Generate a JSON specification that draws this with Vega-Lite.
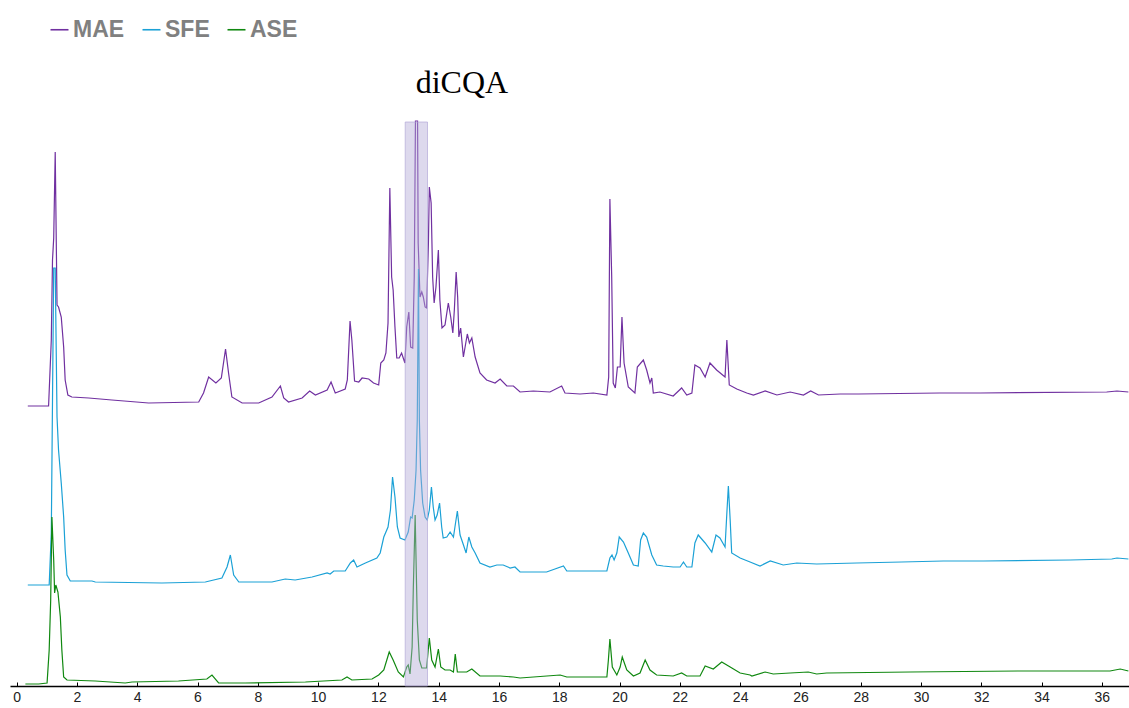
{
  "$schema": "https://vega.github.io/schema/vega-lite/v6.json",
  "width": 1119,
  "height": 566,
  "autosize": {"type": "none"},
  "padding": {"left": 10, "top": 120, "right": 0, "bottom": 22},
  "background": "white",
  "config": {"view": {"stroke": null}},
  "datasets": {
    "traces": [
      {"s":"MAE","t":0.37,"v":280},{"s":"MAE","t":1.06,"v":280},{"s":"MAE","t":1.15,"v":346},{"s":"MAE","t":1.19,"v":426},{"s":"MAE","t":1.23,"v":448},{"s":"MAE","t":1.28,"v":534},{"s":"MAE","t":1.34,"v":381},{"s":"MAE","t":1.39,"v":379},{"s":"MAE","t":1.48,"v":369},{"s":"MAE","t":1.56,"v":339},{"s":"MAE","t":1.61,"v":306},{"s":"MAE","t":1.70,"v":291},{"s":"MAE","t":1.83,"v":289},{"s":"MAE","t":2.39,"v":288},{"s":"MAE","t":3.16,"v":286},{"s":"MAE","t":4.38,"v":283},{"s":"MAE","t":6.04,"v":284},{"s":"MAE","t":6.20,"v":293},{"s":"MAE","t":6.37,"v":309},{"s":"MAE","t":6.61,"v":303},{"s":"MAE","t":6.79,"v":308},{"s":"MAE","t":6.93,"v":337},{"s":"MAE","t":7.03,"v":313},{"s":"MAE","t":7.14,"v":289},{"s":"MAE","t":7.48,"v":283},{"s":"MAE","t":8.03,"v":283},{"s":"MAE","t":8.47,"v":289},{"s":"MAE","t":8.75,"v":300},{"s":"MAE","t":8.86,"v":288},{"s":"MAE","t":9.02,"v":284},{"s":"MAE","t":9.47,"v":288},{"s":"MAE","t":9.72,"v":295},{"s":"MAE","t":9.91,"v":291},{"s":"MAE","t":10.30,"v":296},{"s":"MAE","t":10.43,"v":304},{"s":"MAE","t":10.57,"v":293},{"s":"MAE","t":10.90,"v":297},{"s":"MAE","t":10.97,"v":306},{"s":"MAE","t":11.06,"v":365},{"s":"MAE","t":11.12,"v":346},{"s":"MAE","t":11.21,"v":305},{"s":"MAE","t":11.35,"v":304},{"s":"MAE","t":11.46,"v":308},{"s":"MAE","t":11.68,"v":307},{"s":"MAE","t":11.84,"v":303},{"s":"MAE","t":12.01,"v":301},{"s":"MAE","t":12.08,"v":323},{"s":"MAE","t":12.18,"v":326},{"s":"MAE","t":12.25,"v":333},{"s":"MAE","t":12.32,"v":363},{"s":"MAE","t":12.38,"v":498},{"s":"MAE","t":12.44,"v":409},{"s":"MAE","t":12.49,"v":396},{"s":"MAE","t":12.55,"v":359},{"s":"MAE","t":12.61,"v":328},{"s":"MAE","t":12.69,"v":328},{"s":"MAE","t":12.77,"v":333},{"s":"MAE","t":12.88,"v":323},{"s":"MAE","t":12.94,"v":359},{"s":"MAE","t":13.01,"v":374},{"s":"MAE","t":13.07,"v":339},{"s":"MAE","t":13.14,"v":338},{"s":"MAE","t":13.19,"v":409},{"s":"MAE","t":13.23,"v":565},{"s":"MAE","t":13.30,"v":565},{"s":"MAE","t":13.32,"v":443},{"s":"MAE","t":13.38,"v":389},{"s":"MAE","t":13.44,"v":394},{"s":"MAE","t":13.49,"v":389},{"s":"MAE","t":13.55,"v":379},{"s":"MAE","t":13.60,"v":378},{"s":"MAE","t":13.66,"v":443},{"s":"MAE","t":13.69,"v":499},{"s":"MAE","t":13.75,"v":483},{"s":"MAE","t":13.80,"v":409},{"s":"MAE","t":13.85,"v":383},{"s":"MAE","t":13.91,"v":399},{"s":"MAE","t":13.99,"v":436},{"s":"MAE","t":14.04,"v":386},{"s":"MAE","t":14.11,"v":358},{"s":"MAE","t":14.21,"v":361},{"s":"MAE","t":14.32,"v":383},{"s":"MAE","t":14.40,"v":369},{"s":"MAE","t":14.47,"v":353},{"s":"MAE","t":14.52,"v":376},{"s":"MAE","t":14.58,"v":414},{"s":"MAE","t":14.63,"v":389},{"s":"MAE","t":14.67,"v":349},{"s":"MAE","t":14.73,"v":358},{"s":"MAE","t":14.82,"v":329},{"s":"MAE","t":14.95,"v":352},{"s":"MAE","t":15.02,"v":343},{"s":"MAE","t":15.10,"v":348},{"s":"MAE","t":15.21,"v":329},{"s":"MAE","t":15.37,"v":313},{"s":"MAE","t":15.59,"v":306},{"s":"MAE","t":15.87,"v":303},{"s":"MAE","t":16.04,"v":307},{"s":"MAE","t":16.26,"v":300},{"s":"MAE","t":16.48,"v":300},{"s":"MAE","t":16.70,"v":294},{"s":"MAE","t":17.14,"v":295},{"s":"MAE","t":17.69,"v":294},{"s":"MAE","t":18.08,"v":300},{"s":"MAE","t":18.19,"v":293},{"s":"MAE","t":18.69,"v":292},{"s":"MAE","t":19.13,"v":293},{"s":"MAE","t":19.58,"v":291},{"s":"MAE","t":19.64,"v":309},{"s":"MAE","t":19.68,"v":487},{"s":"MAE","t":19.74,"v":409},{"s":"MAE","t":19.79,"v":303},{"s":"MAE","t":19.86,"v":298},{"s":"MAE","t":19.93,"v":319},{"s":"MAE","t":20.02,"v":319},{"s":"MAE","t":20.08,"v":369},{"s":"MAE","t":20.15,"v":323},{"s":"MAE","t":20.29,"v":299},{"s":"MAE","t":20.51,"v":293},{"s":"MAE","t":20.59,"v":319},{"s":"MAE","t":20.79,"v":326},{"s":"MAE","t":20.90,"v":316},{"s":"MAE","t":21.01,"v":303},{"s":"MAE","t":21.07,"v":308},{"s":"MAE","t":21.12,"v":293},{"s":"MAE","t":21.34,"v":294},{"s":"MAE","t":21.78,"v":290},{"s":"MAE","t":22.06,"v":298},{"s":"MAE","t":22.23,"v":291},{"s":"MAE","t":22.40,"v":293},{"s":"MAE","t":22.50,"v":321},{"s":"MAE","t":22.67,"v":318},{"s":"MAE","t":22.84,"v":309},{"s":"MAE","t":23.00,"v":323},{"s":"MAE","t":23.22,"v":316},{"s":"MAE","t":23.50,"v":309},{"s":"MAE","t":23.56,"v":346},{"s":"MAE","t":23.64,"v":301},{"s":"MAE","t":23.89,"v":297},{"s":"MAE","t":24.22,"v":293},{"s":"MAE","t":24.44,"v":291},{"s":"MAE","t":24.83,"v":295},{"s":"MAE","t":25.22,"v":291},{"s":"MAE","t":25.66,"v":294},{"s":"MAE","t":26.10,"v":291},{"s":"MAE","t":26.34,"v":295},{"s":"MAE","t":26.60,"v":291},{"s":"MAE","t":27.32,"v":292},{"s":"MAE","t":27.92,"v":292},{"s":"MAE","t":30.63,"v":293},{"s":"MAE","t":31.96,"v":293},{"s":"MAE","t":36.16,"v":294},{"s":"MAE","t":36.50,"v":295},{"s":"MAE","t":36.88,"v":294},
      {"s":"SFE","t":0.37,"v":101},{"s":"SFE","t":1.08,"v":101},{"s":"SFE","t":1.15,"v":153},{"s":"SFE","t":1.19,"v":286},{"s":"SFE","t":1.23,"v":418},{"s":"SFE","t":1.28,"v":418},{"s":"SFE","t":1.34,"v":269},{"s":"SFE","t":1.39,"v":236},{"s":"SFE","t":1.48,"v":203},{"s":"SFE","t":1.56,"v":169},{"s":"SFE","t":1.61,"v":136},{"s":"SFE","t":1.67,"v":111},{"s":"SFE","t":1.78,"v":105},{"s":"SFE","t":2.50,"v":105},{"s":"SFE","t":2.61,"v":104},{"s":"SFE","t":4.82,"v":103},{"s":"SFE","t":6.26,"v":104},{"s":"SFE","t":6.81,"v":108},{"s":"SFE","t":6.98,"v":119},{"s":"SFE","t":7.09,"v":131},{"s":"SFE","t":7.20,"v":111},{"s":"SFE","t":7.37,"v":104},{"s":"SFE","t":8.47,"v":104},{"s":"SFE","t":8.91,"v":107},{"s":"SFE","t":9.24,"v":106},{"s":"SFE","t":9.80,"v":109},{"s":"SFE","t":10.30,"v":113},{"s":"SFE","t":10.40,"v":112},{"s":"SFE","t":10.52,"v":115},{"s":"SFE","t":10.90,"v":115},{"s":"SFE","t":11.07,"v":123},{"s":"SFE","t":11.18,"v":126},{"s":"SFE","t":11.29,"v":119},{"s":"SFE","t":11.57,"v":123},{"s":"SFE","t":11.95,"v":128},{"s":"SFE","t":12.06,"v":133},{"s":"SFE","t":12.18,"v":149},{"s":"SFE","t":12.32,"v":159},{"s":"SFE","t":12.40,"v":176},{"s":"SFE","t":12.47,"v":209},{"s":"SFE","t":12.55,"v":189},{"s":"SFE","t":12.63,"v":159},{"s":"SFE","t":12.72,"v":148},{"s":"SFE","t":12.88,"v":146},{"s":"SFE","t":12.99,"v":154},{"s":"SFE","t":13.07,"v":169},{"s":"SFE","t":13.12,"v":168},{"s":"SFE","t":13.19,"v":186},{"s":"SFE","t":13.25,"v":216},{"s":"SFE","t":13.29,"v":266},{"s":"SFE","t":13.33,"v":417},{"s":"SFE","t":13.36,"v":266},{"s":"SFE","t":13.40,"v":216},{"s":"SFE","t":13.47,"v":183},{"s":"SFE","t":13.55,"v":169},{"s":"SFE","t":13.62,"v":166},{"s":"SFE","t":13.69,"v":176},{"s":"SFE","t":13.76,"v":199},{"s":"SFE","t":13.82,"v":179},{"s":"SFE","t":13.88,"v":166},{"s":"SFE","t":13.95,"v":171},{"s":"SFE","t":14.03,"v":183},{"s":"SFE","t":14.10,"v":159},{"s":"SFE","t":14.15,"v":148},{"s":"SFE","t":14.27,"v":149},{"s":"SFE","t":14.38,"v":154},{"s":"SFE","t":14.49,"v":149},{"s":"SFE","t":14.54,"v":159},{"s":"SFE","t":14.62,"v":175},{"s":"SFE","t":14.71,"v":151},{"s":"SFE","t":14.80,"v":143},{"s":"SFE","t":14.91,"v":133},{"s":"SFE","t":15.00,"v":149},{"s":"SFE","t":15.10,"v":139},{"s":"SFE","t":15.21,"v":133},{"s":"SFE","t":15.37,"v":123},{"s":"SFE","t":15.70,"v":119},{"s":"SFE","t":15.93,"v":121},{"s":"SFE","t":16.14,"v":121},{"s":"SFE","t":16.37,"v":118},{"s":"SFE","t":16.53,"v":119},{"s":"SFE","t":16.70,"v":114},{"s":"SFE","t":17.58,"v":114},{"s":"SFE","t":18.14,"v":120},{"s":"SFE","t":18.25,"v":115},{"s":"SFE","t":18.91,"v":115},{"s":"SFE","t":19.58,"v":115},{"s":"SFE","t":19.68,"v":128},{"s":"SFE","t":19.75,"v":131},{"s":"SFE","t":19.82,"v":126},{"s":"SFE","t":19.91,"v":133},{"s":"SFE","t":19.99,"v":149},{"s":"SFE","t":20.13,"v":144},{"s":"SFE","t":20.29,"v":133},{"s":"SFE","t":20.46,"v":121},{"s":"SFE","t":20.62,"v":120},{"s":"SFE","t":20.70,"v":146},{"s":"SFE","t":20.79,"v":153},{"s":"SFE","t":20.90,"v":149},{"s":"SFE","t":21.07,"v":131},{"s":"SFE","t":21.23,"v":121},{"s":"SFE","t":21.45,"v":120},{"s":"SFE","t":21.78,"v":119},{"s":"SFE","t":22.01,"v":119},{"s":"SFE","t":22.12,"v":124},{"s":"SFE","t":22.23,"v":119},{"s":"SFE","t":22.40,"v":119},{"s":"SFE","t":22.50,"v":143},{"s":"SFE","t":22.61,"v":151},{"s":"SFE","t":22.84,"v":143},{"s":"SFE","t":23.06,"v":134},{"s":"SFE","t":23.20,"v":151},{"s":"SFE","t":23.33,"v":148},{"s":"SFE","t":23.50,"v":139},{"s":"SFE","t":23.56,"v":173},{"s":"SFE","t":23.61,"v":200},{"s":"SFE","t":23.67,"v":166},{"s":"SFE","t":23.72,"v":133},{"s":"SFE","t":24.00,"v":128},{"s":"SFE","t":24.33,"v":124},{"s":"SFE","t":24.66,"v":120},{"s":"SFE","t":25.00,"v":125},{"s":"SFE","t":25.43,"v":121},{"s":"SFE","t":25.88,"v":123},{"s":"SFE","t":26.54,"v":122},{"s":"SFE","t":27.87,"v":123},{"s":"SFE","t":29.36,"v":124},{"s":"SFE","t":30.74,"v":125},{"s":"SFE","t":32.07,"v":125},{"s":"SFE","t":34.95,"v":126},{"s":"SFE","t":36.33,"v":127},{"s":"SFE","t":36.50,"v":128},{"s":"SFE","t":36.88,"v":127},
      {"s":"ASE","t":0.29,"v":2},{"s":"ASE","t":0.73,"v":2},{"s":"ASE","t":1.01,"v":3},{"s":"ASE","t":1.08,"v":36},{"s":"ASE","t":1.13,"v":86},{"s":"ASE","t":1.17,"v":169},{"s":"ASE","t":1.23,"v":126},{"s":"ASE","t":1.26,"v":93},{"s":"ASE","t":1.30,"v":101},{"s":"ASE","t":1.37,"v":94},{"s":"ASE","t":1.45,"v":69},{"s":"ASE","t":1.50,"v":36},{"s":"ASE","t":1.56,"v":9},{"s":"ASE","t":1.67,"v":6},{"s":"ASE","t":2.61,"v":5},{"s":"ASE","t":3.60,"v":3},{"s":"ASE","t":3.83,"v":4},{"s":"ASE","t":5.37,"v":5},{"s":"ASE","t":6.31,"v":7},{"s":"ASE","t":6.48,"v":11},{"s":"ASE","t":6.70,"v":3},{"s":"ASE","t":7.58,"v":3},{"s":"ASE","t":9.58,"v":4},{"s":"ASE","t":10.79,"v":6},{"s":"ASE","t":10.96,"v":9},{"s":"ASE","t":11.12,"v":6},{"s":"ASE","t":11.79,"v":7},{"s":"ASE","t":12.01,"v":11},{"s":"ASE","t":12.18,"v":16},{"s":"ASE","t":12.36,"v":34},{"s":"ASE","t":12.49,"v":26},{"s":"ASE","t":12.66,"v":14},{"s":"ASE","t":12.83,"v":9},{"s":"ASE","t":12.94,"v":19},{"s":"ASE","t":12.99,"v":21},{"s":"ASE","t":13.05,"v":12},{"s":"ASE","t":13.12,"v":39},{"s":"ASE","t":13.16,"v":99},{"s":"ASE","t":13.22,"v":171},{"s":"ASE","t":13.29,"v":66},{"s":"ASE","t":13.36,"v":26},{"s":"ASE","t":13.44,"v":18},{"s":"ASE","t":13.60,"v":18},{"s":"ASE","t":13.69,"v":48},{"s":"ASE","t":13.77,"v":26},{"s":"ASE","t":13.88,"v":19},{"s":"ASE","t":13.99,"v":37},{"s":"ASE","t":14.07,"v":19},{"s":"ASE","t":14.21,"v":16},{"s":"ASE","t":14.38,"v":16},{"s":"ASE","t":14.49,"v":14},{"s":"ASE","t":14.55,"v":32},{"s":"ASE","t":14.62,"v":14},{"s":"ASE","t":14.93,"v":14},{"s":"ASE","t":15.10,"v":17},{"s":"ASE","t":15.37,"v":10},{"s":"ASE","t":16.04,"v":10},{"s":"ASE","t":16.48,"v":9},{"s":"ASE","t":16.70,"v":8},{"s":"ASE","t":18.03,"v":11},{"s":"ASE","t":18.25,"v":9},{"s":"ASE","t":19.58,"v":9},{"s":"ASE","t":19.63,"v":26},{"s":"ASE","t":19.68,"v":47},{"s":"ASE","t":19.76,"v":19},{"s":"ASE","t":19.91,"v":11},{"s":"ASE","t":20.02,"v":19},{"s":"ASE","t":20.09,"v":29},{"s":"ASE","t":20.24,"v":16},{"s":"ASE","t":20.46,"v":10},{"s":"ASE","t":20.68,"v":13},{"s":"ASE","t":20.85,"v":26},{"s":"ASE","t":21.01,"v":16},{"s":"ASE","t":21.23,"v":11},{"s":"ASE","t":21.78,"v":10},{"s":"ASE","t":22.06,"v":13},{"s":"ASE","t":22.23,"v":10},{"s":"ASE","t":22.67,"v":10},{"s":"ASE","t":22.84,"v":20},{"s":"ASE","t":23.11,"v":17},{"s":"ASE","t":23.39,"v":24},{"s":"ASE","t":23.67,"v":19},{"s":"ASE","t":24.00,"v":13},{"s":"ASE","t":24.33,"v":11},{"s":"ASE","t":24.39,"v":10},{"s":"ASE","t":24.83,"v":14},{"s":"ASE","t":25.10,"v":12},{"s":"ASE","t":25.66,"v":13},{"s":"ASE","t":26.26,"v":14},{"s":"ASE","t":26.54,"v":12},{"s":"ASE","t":26.87,"v":13},{"s":"ASE","t":29.64,"v":14},{"s":"ASE","t":33.23,"v":15},{"s":"ASE","t":36.27,"v":15},{"s":"ASE","t":36.61,"v":17},{"s":"ASE","t":36.88,"v":15}
    ],
    "band": [{"start": 12.89, "end": 13.63, "low": 0, "high": 564}],
    "note": [{"label": "diCQA", "t": 14.77, "v": 593}]
  },
  "layer": [
    {
      "data": {"name": "traces"},
      "mark": {"type": "line", "strokeWidth": 1.2, "interpolate": "linear"},
      "encoding": {
        "x": {
          "field": "t", "type": "quantitative",
          "scale": {"domain": [-0.22, 36.9], "nice": false, "zero": false},
          "axis": {
            "title": null,
            "values": [0,2,4,6,8,10,12,14,16,18,20,22,24,26,28,30,32,34,36],
            "grid": false,
            "domainColor": "#000000",
            "domainWidth": 1.5,
            "tickColor": "#000000",
            "tickSize": -4,
            "tickWidth": 1,
            "labelPadding": 8,
            "labelFont": "Liberation Sans",
            "labelFontSize": 14,
            "labelColor": "#222222",
            "labelFlush": false
          }
        },
        "y": {
          "field": "v", "type": "quantitative",
          "scale": {"domain": [0, 566], "nice": false, "zero": true},
          "axis": null
        },
        "color": {
          "field": "s", "type": "nominal",
          "scale": {"domain": ["MAE", "SFE", "ASE"], "range": ["#7030a0", "#1ba1d6", "#108810"]},
          "legend": {
            "title": null,
            "orient": "none",
            "direction": "horizontal",
            "legendX": 38,
            "legendY": -102,
            "symbolType": "stroke",
            "symbolSize": 324,
            "symbolStrokeWidth": 1.6,
            "labelFont": "Liberation Sans",
            "labelFontSize": 23,
            "labelFontWeight": "bold",
            "labelColor": "#808080",
            "labelOffset": 2,
            "columnPadding": 14
          }
        }
      }
    },
    {
      "data": {"name": "band"},
      "mark": {"type": "rect", "fill": "#b3aad8", "fillOpacity": 0.45, "stroke": "#b3aad8", "strokeOpacity": 0.7, "strokeWidth": 1},
      "encoding": {
        "x": {"field": "start", "type": "quantitative"},
        "x2": {"field": "end"},
        "y": {"field": "low", "type": "quantitative"},
        "y2": {"field": "high"}
      }
    },
    {
      "data": {"name": "note"},
      "mark": {"type": "text", "font": "Liberation Serif", "fontSize": 32, "color": "#000000", "align": "center", "baseline": "alphabetic"},
      "encoding": {
        "x": {"field": "t", "type": "quantitative"},
        "y": {"field": "v", "type": "quantitative"},
        "text": {"field": "label"}
      }
    }
  ]
}
